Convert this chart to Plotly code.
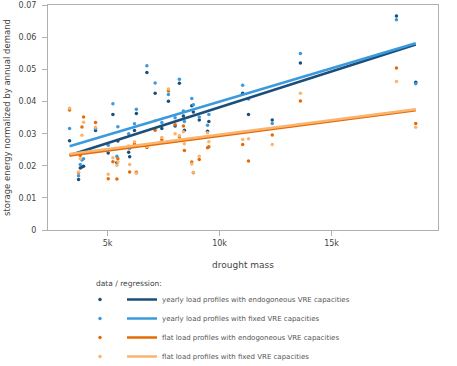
import plotly.graph_objects as go

# drought mass of each weather year
drought_mass = [3307, 3708, 3784, 3859, 3931, 4465, 5031, 5241, 5419, 5463,
                5945, 5989, 6203, 6288, 6756, 7126, 7424, 7718, 8017, 8208,
                8387, 8431, 8761, 8832, 9095, 9465, 9523, 11033, 11292, 12352,
                13609, 17896, 18756]

# storage energy normalized by annual demand
yearly_endo = [0.0278, 0.0157, 0.0193, 0.0196, 0.0199, 0.0310, 0.0240, 0.0360, 0.0210, 0.0277,
               0.0242, 0.0228, 0.0310, 0.0363, 0.0491, 0.0426, 0.0316, 0.0401, 0.0324, 0.0457,
               0.0355, 0.0311, 0.0387, 0.0368, 0.0343, 0.0308, 0.0338, 0.0426, 0.0360, 0.0343,
               0.0520, 0.0667, 0.0460]
yearly_fixed = [0.0316, 0.0169, 0.0204, 0.0218, 0.0222, 0.0316, 0.0264, 0.0393, 0.0230, 0.0322,
                0.0300, 0.0255, 0.0331, 0.0376, 0.0512, 0.0458, 0.0335, 0.0422, 0.0350, 0.0470,
                0.0371, 0.0338, 0.0410, 0.0390, 0.0352, 0.0326, 0.0360, 0.0451, 0.0408, 0.0332,
                0.0550, 0.0655, 0.0456]
flat_endo = [0.0374, 0.0178, 0.0232, 0.0321, 0.0352, 0.0335, 0.0160, 0.0213, 0.0159, 0.0222,
             0.0256, 0.0181, 0.0268, 0.0180, 0.0257, 0.0311, 0.0282, 0.0433, 0.0328, 0.0290,
             0.0324, 0.0248, 0.0212, 0.0178, 0.0220, 0.0256, 0.0259, 0.0266, 0.0215, 0.0296,
             0.0402, 0.0505, 0.0332]
flat_fixed = [0.0379, 0.0181, 0.0222, 0.0295, 0.0336, 0.0320, 0.0174, 0.0225, 0.0202, 0.0212,
              0.0262, 0.0204, 0.0275, 0.0177, 0.0260, 0.0340, 0.0288, 0.0439, 0.0300, 0.0294,
              0.0306, 0.0269, 0.0206, 0.0180, 0.0230, 0.0303, 0.0275, 0.0282, 0.0284, 0.0266,
              0.0426, 0.0463, 0.0320]

# regression lines (end points)
reg_x = [3307, 18756]
reg_yearly_endo = [0.0233, 0.0578]
reg_yearly_fixed = [0.0261, 0.0582]
reg_flat_endo = [0.0232, 0.0373]
reg_flat_fixed = [0.0237, 0.0376]

names = ["yearly load profiles with endogoneous VRE capacities",
         "yearly load profiles with fixed VRE capacities",
         "flat load profiles with endogoneous VRE capacities",
         "flat load profiles with fixed VRE capacities"]
colors = ["#1b4f7a", "#3b9ade", "#e36c09", "#fbb46e"]
points = [yearly_endo, yearly_fixed, flat_endo, flat_fixed]
regs = [reg_yearly_endo, reg_yearly_fixed, reg_flat_endo, reg_flat_fixed]

fig = go.Figure()

for i in range(4):
    fig.add_trace(go.Scatter(x=drought_mass, y=points[i], mode="markers", name="",
                             marker=dict(color=colors[i], size=3.5), legend="legend"))
for i in range(4):
    fig.add_trace(go.Scatter(x=reg_x, y=regs[i], mode="lines", name=names[i],
                             line=dict(color=colors[i], width=2.5), legend="legend2"))

W, H = 457, 366
L, R, T, B = 48, 19, 5, 136
PW, PH = W - L - R, H - T - B

font = "DejaVu Sans"
axis_style = dict(showgrid=False, zeroline=False, showline=True, linecolor="#b0b0b0",
                  linewidth=1, mirror=True, ticks="outside", tickcolor="#b0b0b0",
                  ticklen=5, tickfont=dict(size=8, color="#444"), automargin=False)

fig.update_layout(
    width=W, height=H,
    margin=dict(l=L, r=R, t=T, b=B, autoexpand=False),
    plot_bgcolor="white", paper_bgcolor="white",
    font=dict(family=font, size=8, color="#444"),
    xaxis=dict(title=dict(text="drought mass", font=dict(size=9), standoff=15), range=[2344, 19750],
               tickvals=[5000, 10000, 15000], ticktext=["5k", "10k", "15k"], **axis_style),
    yaxis=dict(title=dict(text="storage energy normalized by annual demand", font=dict(size=8.5),
                          standoff=6),
               range=[0, 0.0701], tickvals=[0, 0.01, 0.02, 0.03, 0.04, 0.05, 0.06, 0.07],
               ticktext=["0", "0.01", "0.02", "0.03", "0.04", "0.05", "0.06", "0.07"],
               ticklabelstandoff=4, **axis_style),
    legend=dict(x=(80 - L) / PW, y=(H - B - 285) / PH,
                xanchor="left", yanchor="top", bgcolor="rgba(0,0,0,0)",
                font=dict(size=7, color="#555"), tracegroupgap=0),
    legend2=dict(x=(122 - L) / PW, y=(H - B - 285) / PH,
                 xanchor="left", yanchor="top", bgcolor="rgba(0,0,0,0)",
                 font=dict(size=7, color="#555"), tracegroupgap=0),
    annotations=[dict(text="data / regression:", showarrow=False,
                      xref="paper", yref="paper",
                      x=(94 - L) / PW, y=(H - B - 283) / PH,
                      xanchor="left", yanchor="middle",
                      font=dict(size=7.5, color="#444"))],
)

# page has a default body margin; drop it so the figure sits at the window corner
fig.write_html("out.html", config={"displayModeBar": False},
               post_script="document.body.style.margin='0';")
